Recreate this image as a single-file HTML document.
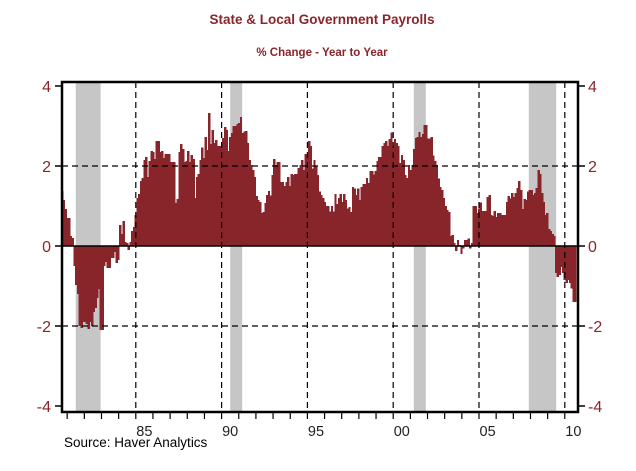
<!DOCTYPE html>
<html><head><meta charset="utf-8"><style>
body{margin:0;background:#fff;}
svg{display:block;font-family:"Liberation Sans",Arial,sans-serif;}
</style></head><body>
<svg id="chart" width="636" height="471" viewBox="0 0 636 471">
<text x="322" y="24" text-anchor="middle" font-size="13.5" font-weight="bold" fill="#8B252B">State &amp; Local Government Payrolls</text>
<text x="322" y="56" text-anchor="middle" font-size="11.5" font-weight="bold" fill="#8B252B">% Change - Year to Year</text>
<g id="recessions"></g>
<g id="bars" shape-rendering="crispEdges"></g>
<g id="grid"></g>
<g id="axes"></g>
<text x="64" y="447" font-size="13.5" fill="#000">Source: Haver Analytics</text>
</svg>
<script>
const values=[1.37,1.15,0.92,0.7,0.7,0.25,0.2,
-0.5,-0.97,-1.2,-2.0,-2.05,-1.9,-1.9,-1.95,-2.08,-1.9,-2.0,-1.65,-1.55,-1.3,-1.08,-2.1,-2.1,-0.5,-0.4,-0.55,-0.55,-0.3,-0.3,-0.15,-0.42,-0.35,
0.52,0.3,0.62,0.1,0.07,-0.1,0.1,0.38,0.48,0.77,1.2,1.3,1.63,1.7,2.15,2.23,1.73,2.13,2.37,2.35,2.17,2.62,2.62,2.35,2.38,2.2,2.3,2.3,2.3,2.1,2.1,2.1,1.08,1.18,2.35,2.55,2.43,2.1,2.13,2.37,2.1,2.27,2.17,1.2,1.73,1.8,2.15,2.46,2.2,2.73,2.4,3.33,2.55,2.9,2.57,2.65,2.5,2.5,2.5,2.7,2.98,2.9,2.38,2.73,2.83,3.0,3.0,3.05,3.07,3.23,2.82,2.86,2.88,2.58,2.15,2.03,1.9,1.73,1.25,1.15,1.1,0.83,0.85,1.07,1.27,
1.37,1.26,1.78,2.18,2.02,2.1,2.1,1.6,1.6,1.5,1.6,1.73,1.5,1.8,1.77,1.8,1.8,1.95,2.03,2.15,1.9,2.3,2.3,2.63,2.5,1.94,2.15,2.0,1.78,1.36,1.28,1.2,1.1,1.0,1.0,0.86,1.0,0.86,1.3,1.05,1.2,1.3,1.1,1.3,1.15,0.94,0.98,0.85,1.47,1.44,1.28,1.44,1.15,1.47,1.55,1.55,1.7,1.57,1.88,1.88,1.79,1.88,2.13,2.22,2.22,2.5,2.57,2.62,2.5,2.67,2.84,2.5,2.67,2.57,2.5,2.08,2.27,2.15,1.78,1.7,2.02,1.9,2.02,2.43,2.7,2.72,2.85,2.72,2.8,3.02,3.03,2.69,2.69,2.72,2.26,2.13,2.02,1.69,1.48,1.4,1.2,1.0,0.9,0.85,
0.25,0.27,0.07,-0.12,0.15,0.03,-0.2,-0.06,0.15,0.15,0.19,-0.06,0.07,1.0,1.0,0.82,0.94,1.09,0.88,0.88,0.88,1.22,1.27,0.78,0.75,0.88,0.73,0.83,0.82,0.78,0.78,0.78,1.1,1.25,1.19,1.32,1.23,1.32,1.45,1.63,1.4,0.92,1.17,1.15,1.36,1.4,1.4,1.27,1.32,1.45,1.9,1.8,1.32,1.1,0.78,0.83,0.43,0.38,0.3,0.25,-0.68,-0.77,-0.72,-0.52,-0.68,-0.85,-0.93,-0.85,-0.93,-1.06,-1.4,-1.4];
const startYear=1980.7, endYear=2010.6;
const recessions=[[1981.5,1982.95],[1990.5,1991.2],[2001.2,2001.9],[2007.9,2009.5]];
const yTicks=[4,2,0,-2,-4];
const yTickLabels=["4","2","0","-2","-4"];
const xLabelYears=[1985,1990,1995,2000,2005,2010];
const xLabels=["85","90","95","00","05","10"];

const NS="http://www.w3.org/2000/svg";
const L=62,R=578,T=82,B=412;
const xs=yr=>50+(yr-1980)*17.16;
const ys=v=>246-v*40;
function mk(tag,attrs,parent){const e=document.createElementNS(NS,tag);for(const k in attrs)e.setAttribute(k,attrs[k]);parent.appendChild(e);return e;}
const gR=document.getElementById('recessions'),gB=document.getElementById('bars'),gG=document.getElementById('grid'),gA=document.getElementById('axes');
recessions.forEach(r=>{const e=mk('rect',{x:xs(r[0]),y:T,width:xs(r[1])-xs(r[0]),height:B-T,fill:'#c6c6c6'},gR);

});
const n=values.length,step=(endYear-startYear)/(n-1),bw=xs(startYear+step)-xs(startYear);
values.forEach((v,i)=>{const x=xs(startYear+i*step);const y0=ys(0),y1=ys(v);
const e=mk('rect',{x:x-bw/2,y:Math.min(y0,y1),width:bw+0.6,height:Math.abs(y1-y0),fill:'#88252A'},gB);

});
[2,-2].forEach(v=>{const e=mk('line',{x1:L,x2:R,y1:ys(v),y2:ys(v),stroke:'#000','stroke-width':1.2,'stroke-dasharray':'6,4'},gG);

});
xLabelYears.forEach(yr=>{const e=mk('line',{x1:xs(yr),x2:xs(yr),y1:T,y2:B,stroke:'#000','stroke-width':1.2,'stroke-dasharray':'6,4'},gG);

});
const z=mk('line',{x1:L,x2:R,y1:ys(0),y2:ys(0),stroke:'#000','stroke-width':1.5},gA);


const f=mk('rect',{x:L,y:T,width:R-L,height:B-T,fill:'none',stroke:'#000','stroke-width':2.5},gA);


yTicks.forEach((v,i)=>{
mk('line',{x1:L-7,x2:L,y1:ys(v),y2:ys(v),stroke:'#000','stroke-width':1.5},gA);
mk('line',{x1:R,x2:R+7,y1:ys(v),y2:ys(v),stroke:'#000','stroke-width':1.5},gA);
const a=mk('text',{x:L-11,y:ys(v)+6,'text-anchor':'end','font-size':16,fill:'#8B252B'},gA);a.textContent=yTickLabels[i];


const b=mk('text',{x:R+10,y:ys(v)+6,'font-size':16,fill:'#8B252B'},gA);b.textContent=yTickLabels[i];

});
for(let yr=1981;yr<=2010;yr++){mk('line',{x1:xs(yr),x2:xs(yr),y1:B,y2:B+7,stroke:'#000','stroke-width':1.2},gA);}
xLabelYears.forEach((yr,i)=>{const t=mk('text',{x:xs(yr+0.5),y:436,'text-anchor':'middle','font-size':14.5,fill:'#222'},gA);t.textContent=xLabels[i];

});
</script>
</body></html>
